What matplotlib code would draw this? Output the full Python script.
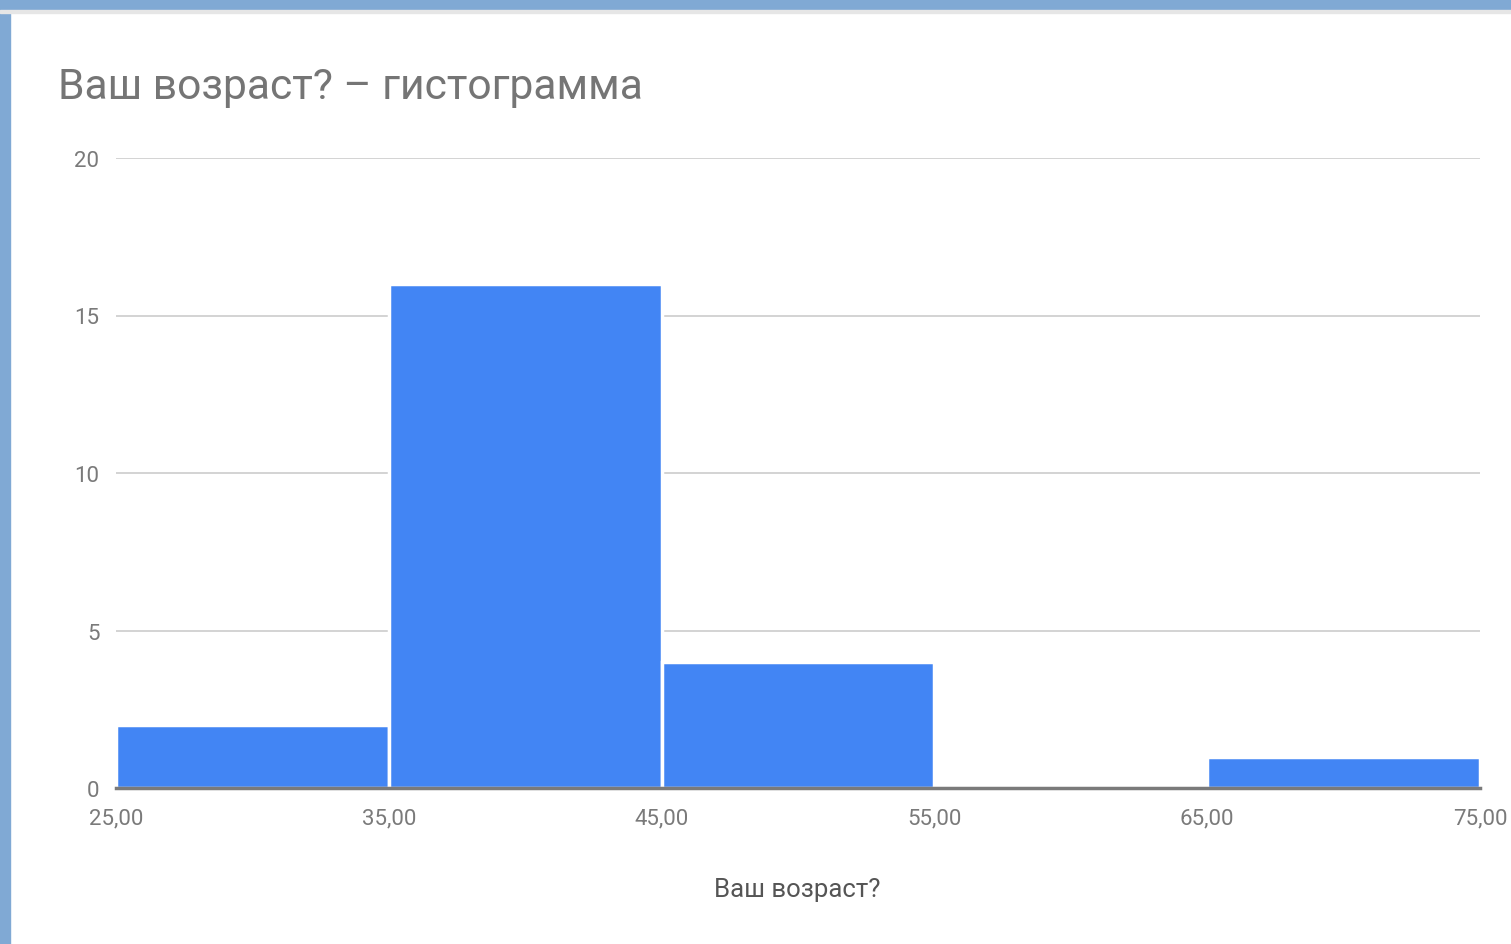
import matplotlib.pyplot as plt
from matplotlib.patches import Rectangle

# histogram bins and counts
bin_edges = [25, 35, 45, 55, 65, 75]
counts = [2, 16, 4, 0, 1]
y_ticks = [0, 5, 10, 15, 20]

plt.rcParams['font.family'] = ['Roboto', 'DejaVu Sans']

fig = plt.figure(figsize=(15.11, 9.45), dpi=100)
fig.patch.set_facecolor('white')

# blue frame on top and left like the screenshot
fig.patches.append(Rectangle((0, 1 - 11 / 945), 1, 11 / 945, transform=fig.transFigure,
                             color='#80a9d4', zorder=0))
fig.patches.append(Rectangle((0, 0), 10 / 1511, 1, transform=fig.transFigure,
                             color='#80a9d4', zorder=0))
fig.patches.append(Rectangle((0, 1 - 14 / 945), 1, 3 / 945, transform=fig.transFigure,
                             color='#e6e6e6', zorder=0))

ax = fig.add_axes([116 / 1511, 1 - 789 / 945, (1480 - 116) / 1511, (789 - 159) / 945])

widths = [bin_edges[i + 1] - bin_edges[i] for i in range(len(counts))]
ax.bar(bin_edges[:-1], counts, width=widths, align='edge', color='#4285f4',
       edgecolor='white', linewidth=2.5, zorder=2)
# baseline
ax.axhline(0, color='#7a7a7a', lw=2.5, zorder=3, clip_on=False)

ax.set_xlim(bin_edges[0], bin_edges[-1])
ax.set_ylim(0, 20)
ax.set_yticks(y_ticks)
ax.set_xticks(bin_edges)
ax.set_xticklabels([f'{v:.2f}'.replace('.', ',') for v in bin_edges])
ax.grid(axis='y', color='#cccccc', lw=1.2, zorder=0)
ax.set_axisbelow(True)
for s in ax.spines.values():
    s.set_visible(False)
ax.tick_params(length=0, labelsize=16, colors='#7a7a7a')
ax.tick_params(axis='y', pad=12)
ax.tick_params(axis='x', pad=14)

fig.text(58 / 1511, 1 - 88 / 945, 'Ваш возраст? – гистограмма', fontsize=30.7,
         color='#757575', va='center', ha='left')
fig.text(797 / 1511, 1 - 890 / 945, 'Ваш возраст?', fontsize=18.5,
         color='#555555', va='center', ha='center')

fig.savefig('out.png', dpi=100)
